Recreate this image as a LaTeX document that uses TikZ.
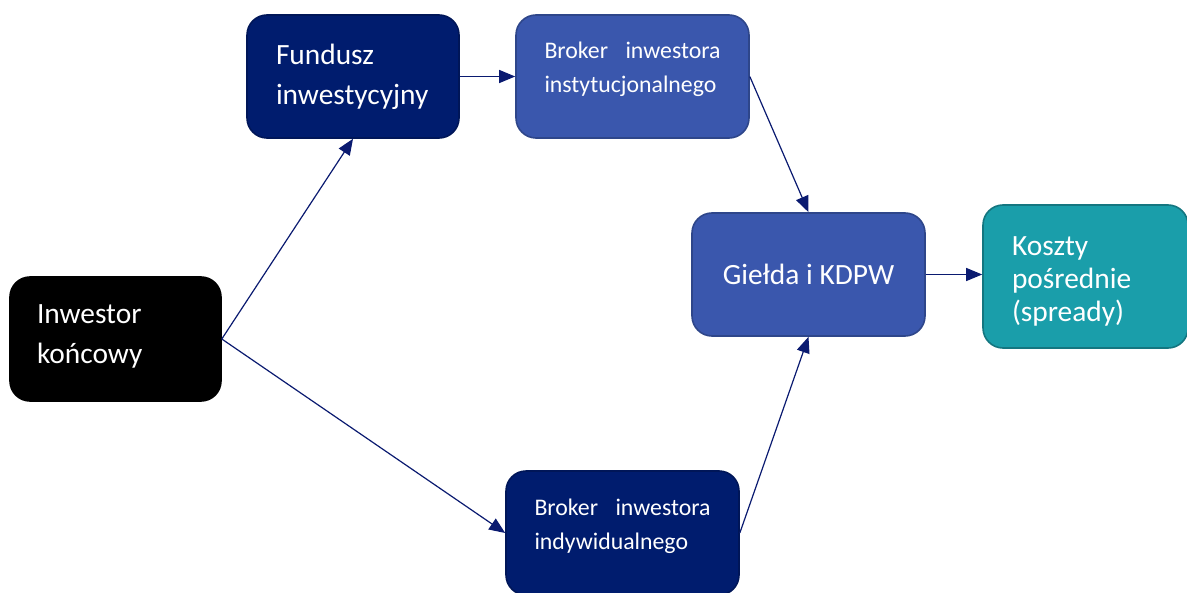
\documentclass[tikz,border=0pt]{standalone}
\usepackage{fontspec}
\setmainfont{Carlito}
\usetikzlibrary{arrows.meta,positioning}
\definecolor{granat}{RGB}{0,28,110}
\definecolor{niebieski}{RGB}{58,87,173}
\definecolor{morski}{RGB}{26,158,170}
\definecolor{strzalka}{RGB}{10,26,112}

\tikzset{
    box/.style={rectangle, rounded corners=10pt, text=white, line width=0.8pt,
        align=left, inner sep=0pt},
    duzy/.style={font=\fontsize{14.7}{20}\selectfont},
    maly/.style={font=\fontsize{11.9}{17}\selectfont, text width=88pt},
    flow/.style={draw=strzalka, line width=0.6pt, -{Triangle[length=8pt,width=6.5pt]}}
}
\newcommand{\podnies}{\rule[-9pt]{0pt}{9pt}}

\begin{document}
\begin{tikzpicture}[x=0.5pt, y=-0.5pt]
    \useasboundingbox (0,0) rectangle (1187,593);

    % Boxes
    \node[box, duzy, fill=black, draw=black, minimum width=105.5pt, minimum height=62pt, text width=78.5pt]
        (inwestor) at (115.5,339) {Inwestor\\końcowy\rule[-5pt]{0pt}{5pt}};
    \node[box, duzy, fill=granat, draw=granat!80!black, minimum width=106pt, minimum height=61.5pt, text width=77pt]
        (fundusz) at (353,76.5) {Fundusz\\inwestycyjny};
    \node[box, maly, fill=niebieski, draw=niebieski!80!black, minimum width=116.5pt, minimum height=61.5pt]
        (brokerinst) at (632.5,76.5) {\hbox to 88pt{Broker\hfill inwestora}\\instytucjonalnego\podnies};
    \node[box, duzy, fill=niebieski, draw=niebieski!80!black, minimum width=116.5pt, minimum height=61.5pt, align=center]
        (gielda) at (808.5,274.5) {Giełda i KDPW};
    \node[box, fill=morski, draw=morski!75!black, minimum width=102.5pt, minimum height=71.5pt, text width=73.5pt,
        font=\fontsize{14.7}{16.5}\selectfont]
        (koszty) at (1085.5,276.5) {\rule{0pt}{14.5pt}Koszty\\pośrednie\\(spready)};
    \node[box, maly, fill=granat, draw=granat!80!black, minimum width=116.5pt, minimum height=62pt]
        (brokerind) at (622.5,533) {\hbox to 88pt{Broker\hfill inwestora}\\indywidualnego\podnies};

    % Connectors
    \draw[flow] (inwestor.east) -- (fundusz.south);
    \draw[flow] (inwestor.east) -- (brokerind.west);
    \draw[flow] (fundusz.east) -- (brokerinst.west);
    \draw[flow] (brokerinst.east) -- (gielda.north);
    \draw[flow] (brokerind.east) -- (gielda.south);
    \draw[flow] (gielda.east) -- (gielda.east -| koszty.west);
\end{tikzpicture}
\end{document}
